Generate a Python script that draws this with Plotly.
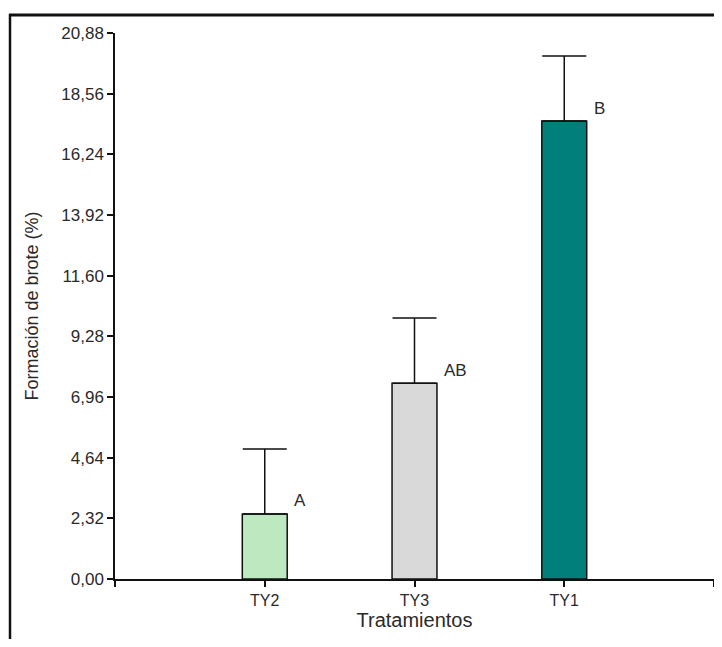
import plotly.graph_objects as go

categories = ["TY2", "TY3", "TY1"]
means = [2.49, 7.49, 17.51]
errors = [2.48, 2.49, 2.49]
letters = ["A", "AB", "B"]
colors = ["#bde8c0", "#d9d9d9", "#007f7b"]
y_ticks = [0.00, 2.32, 4.64, 6.96, 9.28, 11.60, 13.92, 16.24, 18.56, 20.88]
y_tick_labels = ["0,00", "2,32", "4,64", "6,96", "9,28", "11,60", "13,92", "16,24", "18,56", "20,88"]

# page has an 8px body margin; work in window pixel coordinates
OFF = 8
WIN_W, WIN_H = 722, 647
W, H = WIN_W - 2 * OFF, WIN_H - 2 * OFF
AX_L, AX_R, AX_T, AX_B = 115, WIN_W - OFF, 33, 579   # window pixel positions of the plot area
ML, MT = AX_L - OFF, AX_T - OFF
MR = W - (AX_R - OFF)
MB = H - (AX_B - OFF)
pw, ph = AX_R - AX_L, AX_B - AX_T

def px(x):
    return (x - AX_L) / pw

def py(y):
    return (AX_B - y) / ph

xpos = list(range(len(categories)))
font = "Liberation Sans, Arial, sans-serif"
txt = "#2a2a2a"

fig = go.Figure()
fig.add_trace(go.Bar(
    x=xpos, y=means, width=0.3,
    marker=dict(color=colors, line=dict(color="#111111", width=1.5)),
    error_y=dict(type="data", array=errors, arrayminus=[0, 0, 0], symmetric=False,
                 color="#111111", thickness=1.5, width=22),
    showlegend=False,
))

for i, (v, e, l) in enumerate(zip(means, errors, letters)):
    fig.add_annotation(x=i + 0.185, y=v + 0.5, text=l, showarrow=False,
                       xanchor="left", yanchor="middle",
                       font=dict(family=font, size=17, color=txt))

fig.update_layout(
    width=W, height=H,
    margin=dict(l=ML, r=MR, t=MT, b=MB, pad=0),
    paper_bgcolor="white", plot_bgcolor="white",
    font=dict(family=font, color=txt),
    xaxis=dict(range=[-1, 3], tickvals=[-1, 0, 1, 2, 3], ticktext=["", "TY2", "TY3", "TY1", ""],
               showline=True, linecolor="#111111", linewidth=1.5, ticks="outside",
               ticklen=6, tickwidth=1.5, tickcolor="#111111", showgrid=False, zeroline=False,
               tickfont=dict(size=16, color=txt),
               title=dict(text="Tratamientos", font=dict(size=20, color=txt), standoff=4)),
    yaxis=dict(range=[0, 20.88], tickvals=y_ticks, ticktext=y_tick_labels,
               showline=True, linecolor="#111111", linewidth=1.5, ticks="outside",
               ticklen=6, tickwidth=1.5, tickcolor="#111111", showgrid=False, zeroline=False,
               tickfont=dict(size=17, color=txt),
               title=dict(text="Formación de brote (%)", font=dict(size=18, color=txt), standoff=18)),
    shapes=[
        dict(type="line", xref="paper", yref="paper", x0=px(9), x1=px(WIN_W - OFF), y0=py(15), y1=py(15),
             line=dict(color="#111111", width=3), layer="above"),
        dict(type="line", xref="paper", yref="paper", x0=px(10), x1=px(10), y0=py(14), y1=py(WIN_H - OFF),
             line=dict(color="#111111", width=2.5), layer="above"),
    ],
)

fig.write_html("out.html", config={"displayModeBar": False})
